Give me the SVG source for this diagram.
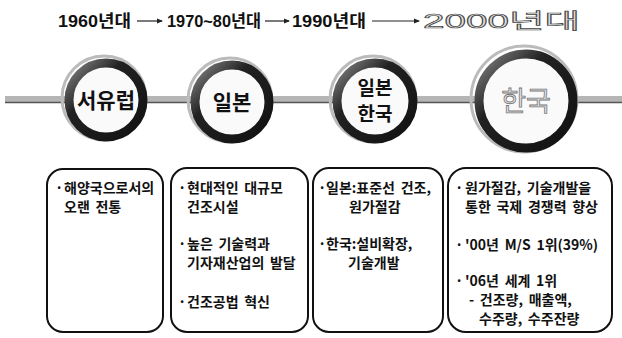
<svg xmlns="http://www.w3.org/2000/svg" width="622" height="338" viewBox="0 0 622 338">
<style>
.yr{font-family:"Liberation Sans","Noto Sans CJK KR",sans-serif;font-size:17px;font-weight:bold;fill:#111}
.yr2{font-family:"Liberation Sans","Noto Sans CJK KR",sans-serif;font-size:21px;fill:#ddd;stroke:#444;stroke-width:0.7}
.ct{font-family:"Noto Sans CJK KR",sans-serif;font-size:21px;font-weight:bold;fill:#111;text-anchor:middle}
.ct3{font-family:"Noto Sans CJK KR",sans-serif;font-size:19px;font-weight:bold;fill:#111;text-anchor:middle}
.ct2{font-family:"Noto Sans CJK KR",sans-serif;font-size:27px;fill:#e4e4e4;stroke:#777;stroke-width:0.8;text-anchor:middle}
.bx{fill:#fff;stroke:#111;stroke-width:2}
.t{font-family:"Noto Sans CJK KR",sans-serif;font-size:14px;font-weight:bold;fill:#111;word-spacing:2.5px}
.arr{stroke:#222;stroke-width:1.2;fill:none}
.ring{fill:#fafafa;stroke:url(#rg);stroke-width:9}
.halo{fill:none;stroke:#bbb;stroke-width:3}
</style>
<defs>
<linearGradient id="rg" x1="0" y1="0" x2="1" y2="1">
<stop offset="0" stop-color="#888"/>
<stop offset="0.35" stop-color="#222"/>
<stop offset="1" stop-color="#111"/>
</linearGradient>
<marker id="ah" markerWidth="6" markerHeight="6" refX="5" refY="3" orient="auto" markerUnits="userSpaceOnUse">
<path d="M0,0.5 L6,3 L0,5.5 z" fill="#222"/>
</marker>
</defs>
<g id="timeline">
<text class="yr" x="58" y="27" textLength="73" lengthAdjust="spacingAndGlyphs">1960년대</text>
<text class="yr" x="167" y="27" textLength="94" lengthAdjust="spacingAndGlyphs">1970~80년대</text>
<text class="yr" x="292" y="27" textLength="74" lengthAdjust="spacingAndGlyphs">1990년대</text>
<text class="yr2" x="423" y="28" textLength="157" lengthAdjust="spacingAndGlyphs">2000년대</text>
</g>
<g id="connectors">
<line class="arr" x1="137" y1="21" x2="162" y2="21" marker-end="url(#ah)"/>
<line class="arr" x1="265" y1="21" x2="289" y2="21" marker-end="url(#ah)"/>
<line class="arr" x1="372" y1="21" x2="419" y2="21" marker-end="url(#ah)"/>
<rect x="5" y="96" width="617" height="6" fill="#b5b5b5"/>
<line x1="5" y1="102.5" x2="622" y2="102.5" stroke="#555" stroke-width="1.5"/>
</g>
<g id="c1">
<circle class="halo" cx="104" cy="98" r="42"/>
<circle class="ring" cx="106" cy="100" r="37"/>
<text class="ct" x="106" y="108">서유럽</text>
</g>
<g id="c2">
<circle class="halo" cx="230" cy="100" r="42"/>
<circle class="ring" cx="232" cy="102" r="37"/>
<text class="ct" x="232" y="110">일본</text>
</g>
<g id="c3">
<circle class="halo" cx="373" cy="99" r="43"/>
<circle class="ring" cx="375" cy="101" r="38"/>
<text class="ct3" x="375" y="95">일본</text>
<text class="ct3" x="375" y="121">한국</text>
</g>
<g id="c4">
<circle class="halo" cx="524" cy="99" r="53"/>
<circle class="ring" cx="526" cy="101" r="47"/>
<text class="ct2" x="526" y="111">한국</text>
</g>
<g id="b1">
<rect class="bx" x="47" y="169" width="116" height="163" rx="16"/>
<text class="t" x="55" y="193">·</text>
<text class="t" x="64" y="193">해양국으로서의</text>
<text class="t" x="64" y="212">오랜 전통</text>
</g>
<g id="b2">
<rect class="bx" x="171" y="168" width="137" height="164" rx="16"/>
<text class="t" x="178" y="193">·</text>
<text class="t" x="187" y="193">현대적인 대규모</text>
<text class="t" x="187" y="212">건조시설</text>
<text class="t" x="178" y="249">·</text>
<text class="t" x="187" y="249">높은 기술력과</text>
<text class="t" x="187" y="268">기자재산업의 발달</text>
<text class="t" x="178" y="307">·</text>
<text class="t" x="187" y="307">건조공법 혁신</text>
</g>
<g id="b3">
<rect class="bx" x="313" y="168" width="130" height="164" rx="16"/>
<text class="t" x="318" y="193">·</text>
<text class="t" x="326" y="193">일본:표준선 건조,</text>
<text class="t" x="349" y="212">원가절감</text>
<text class="t" x="318" y="249">·</text>
<text class="t" x="326" y="249">한국:설비확장,</text>
<text class="t" x="348" y="268">기술개발</text>
</g>
<g id="b4">
<rect class="bx" x="448" y="168" width="164" height="164" rx="18"/>
<text class="t" x="455" y="193">·</text>
<text class="t" x="465" y="193">원가절감, 기술개발을</text>
<text class="t" x="465" y="212">통한 국제 경쟁력 향상</text>
<text class="t" x="455" y="250">·</text>
<text class="t" x="465" y="250">'00년 M/S 1위(39%)</text>
<text class="t" x="455" y="286">·</text>
<text class="t" x="465" y="286">'06년 세계 1위</text>
<text class="t" x="469" y="305">- 건조량, 매출액,</text>
<text class="t" x="479" y="324">수주량, 수주잔량</text>
</g>
</svg>
